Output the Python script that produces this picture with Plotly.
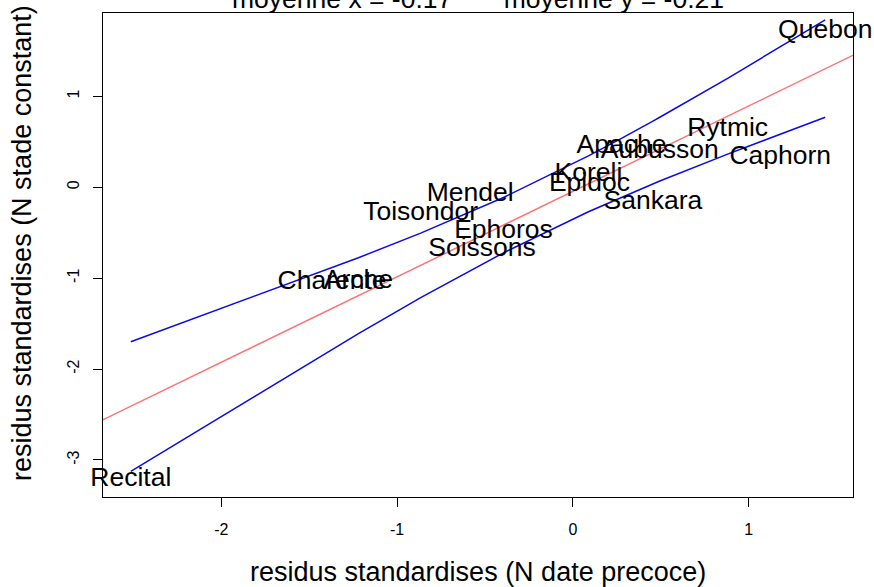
import plotly.graph_objects as go

# ---- data ----
names = ["Recital", "Charente", "Arche", "Toisondor", "Mendel", "Soissons",
         "Ephoros", "Koreli", "Epidoc", "Apache", "Sankara", "Aubusson",
         "Rytmic", "Caphorn", "Quebon"]
x_resid = [-2.515, -1.37, -1.22, -0.866, -0.585, -0.517, -0.395, 0.088,
           0.094, 0.276, 0.455, 0.494, 0.88, 1.179, 1.435]
y_resid = [-3.21, -1.045, -1.03, -0.289, -0.074, -0.68, -0.49, 0.14,
           0.036, 0.445, -0.167, 0.40, 0.642, 0.328, 1.72]
band_upper = [-1.70, -0.886, -0.775, -0.504, -0.275, -0.218, -0.112, 0.345,
              0.351, 0.538, 0.728, 0.770, 1.199, 1.542, 1.842]
band_lower = [-3.125, -1.780, -1.609, -1.214, -0.915, -0.844, -0.721, -0.269,
              -0.264, -0.109, 0.038, 0.069, 0.365, 0.585, 0.770]
intercept = -0.045
slope = 0.94
x_ticks = [-2, -1, 0, 1]
x_tick_labels = ["-2", "-1", "0", "1"]
y_ticks = [-3, -2, -1, 0, 1]
y_tick_labels = ["-3", "-2", "-1", "0", "1"]
title_text = "moyenne x = -0.17" + "\u00a0" * 7 + "moyenne y = -0.21"
x_title = "residus standardises (N date precoce)"
y_title = "residus standardises (N stade constant)"

FONT = "Liberation Sans, Arial, Helvetica, sans-serif"


def r_range(v):
    lo, hi = min(v), max(v)
    pad = 0.04 * (hi - lo)
    return [lo - pad, hi + pad]


xr = r_range(x_resid)
yr = r_range(y_resid)

fig = go.Figure()

# regression line (abline) across the whole plot region
line_x = [xr[0] - 1, xr[1] + 1]
line_y = [intercept + slope * v for v in line_x]
fig.add_trace(go.Scatter(x=line_x, y=line_y, mode="lines",
                         line=dict(color="#FF7373", width=1.5),
                         hoverinfo="skip", showlegend=False))

# confidence band
fig.add_trace(go.Scatter(x=x_resid, y=band_upper, mode="lines",
                         line=dict(color="#0A0AEE", width=1.5),
                         showlegend=False))
fig.add_trace(go.Scatter(x=x_resid, y=band_lower, mode="lines",
                         line=dict(color="#0A0AEE", width=1.5),
                         showlegend=False))

# labels
fig.add_trace(go.Scatter(x=x_resid, y=y_resid, mode="text", text=names,
                         textposition="middle center",
                         textfont=dict(family=FONT, size=26.5, color="black"),
                         cliponaxis=False, showlegend=False))

axis_common = dict(showgrid=False, zeroline=False, showline=True, mirror=True,
                   linecolor="black", linewidth=1.2, ticks="outside",
                   ticklen=9, tickwidth=1.2, tickcolor="black",
                   tickfont=dict(family=FONT, size=16, color="black"))

fig.update_xaxes(range=xr, tickvals=x_ticks, ticktext=x_tick_labels,
                 ticklabelstandoff=9, **axis_common)
fig.update_yaxes(range=yr, tickvals=y_ticks, ticktext=y_tick_labels,
                 tickangle=-90, ticklabelstandoff=8, **axis_common)

fig.update_layout(
    width=874, height=587,
    margin=dict(l=103, r=21, t=13, b=90),
    plot_bgcolor="white", paper_bgcolor="white",
    font=dict(family=FONT, color="black"),
    annotations=[
        dict(text=title_text, xref="paper", yref="paper", x=0.5, y=1,
             xanchor="center", yanchor="middle", yshift=14.5, showarrow=False,
             font=dict(family=FONT, size=26.5, color="black")),
        dict(text=x_title, xref="paper", yref="paper", x=0.5, y=0,
             xanchor="center", yanchor="middle", yshift=-75, showarrow=False,
             font=dict(family=FONT, size=27, color="black")),
        dict(text=y_title, xref="paper", yref="paper", x=0, y=0.5,
             xanchor="center", yanchor="middle", xshift=-81, yshift=12,
             textangle=-90, showarrow=False,
             font=dict(family=FONT, size=27, color="black")),
    ],
)

fig.write_html("out.html")
